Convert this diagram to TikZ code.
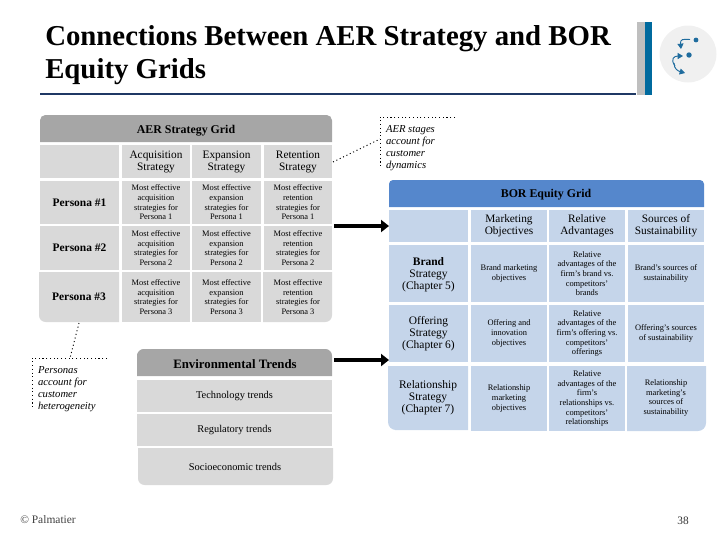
\documentclass[tikz,border=0pt]{standalone}
\usepackage{fontspec}
\setmainfont{Liberation Serif}
\usetikzlibrary{arrows.meta}
\definecolor{aerhead}{HTML}{A6A6A6}
\definecolor{aercell}{HTML}{D9D9D9}
\definecolor{borhead}{HTML}{5587CC}
\definecolor{borcell}{HTML}{C5D5EA}
\definecolor{navy}{HTML}{1F3864}
\definecolor{teal}{HTML}{006A9E}
\definecolor{barg}{HTML}{BFBFBF}
\definecolor{iconbg}{HTML}{F0F0F0}
\definecolor{iconfg}{HTML}{1F6C9E}
\tikzset{
  x=0.75pt,y=-0.75pt,
  boxtext/.style={inner sep=0pt,outer sep=0pt,align=center,anchor=center},
  headtext/.style={boxtext,font=\bfseries\fontsize{8.9}{11}\selectfont},
  coltext/.style={boxtext,font=\fontsize{8.5}{9}\selectfont},
  rowtext/.style={boxtext,font=\bfseries\fontsize{8.6}{9.1}\selectfont},
  rowplain/.style={boxtext,font=\fontsize{8.6}{9.1}\selectfont},
  bodytext/.style={boxtext,font=\fontsize{6.3}{7.25}\selectfont},
  trendtext/.style={boxtext,font=\fontsize{7.8}{9}\selectfont},
  notetext/.style={inner sep=0pt,outer sep=0pt,align=left,anchor=north west,font=\itshape\fontsize{8}{9}\selectfont},
  dotline/.style={draw=black,line width=0.7pt,dash pattern=on 0.8pt off 2pt},
  bigarrow/.style={draw=black,line width=3pt,-{Triangle[length=6pt,width=9pt]}},
  iconarrow/.style={draw=iconfg,line width=0.7pt,-{Triangle[length=4pt,width=4.5pt]}}
}
% #1 name, #2 x1, #3 y1, #4 x2, #5 y2, #6 fill colour, #7 text style, #8 text
\newcommand{\gridcell}[8]{%
  \pgfmathsetmacro{\cw}{(#4-#2)*0.75}%
  \pgfmathsetmacro{\ch}{(#5-#3)*0.75}%
  \node[#7,fill=#6,minimum width=\cw pt,minimum height=\ch pt] (#1) at ({(#2+#4)/2},{(#3+#5)/2}) {#8};}
\begin{document}
\begin{tikzpicture}
\useasboundingbox (0,0) rectangle (720,540);
% Title
\node[anchor=west,inner sep=0pt,align=left,font=\bfseries\fontsize{21.6}{24.75}\selectfont] (title) at (45,55) {Connections Between AER Strategy and BOR\\Equity Grids};
\fill[navy] (40,93) rectangle (636,95);
\fill[barg] (637,22) rectangle (645,95);
\fill[teal] (645,22) rectangle (652,95);
% Icon
\fill[iconbg] (688,54) circle [radius=28.5];
\fill[iconfg] (696,40) circle [radius=2.4];
\fill[iconfg] (689,55) circle [radius=2.7];
\draw[iconarrow] (690,39.5) .. controls (683,39) and (680,39) .. (681,49);
\draw[iconarrow] (675,66) .. controls (670,59) and (674,56) .. (683,56);
\draw[iconarrow] (674,63) .. controls (674,69) and (678,71) .. (685,73);
% AER grid
\fill[aerhead] (40,142) -- (40,120) [rounded corners=4pt] -- (40,115) -- (332,115) [sharp corners] -- (332,142) -- cycle;
\node[headtext] (aerhead) at (186,131) {AER Strategy Grid};
\gridcell{a00}{40}{145}{119}{178}{aercell}{coltext}{}
\gridcell{a01}{122}{145}{190}{178}{aercell}{coltext}{Acquisition\\Strategy}
\gridcell{a02}{192}{145}{261}{178}{aercell}{coltext}{Expansion\\Strategy}
\gridcell{a03}{264}{145}{332}{178}{aercell}{coltext}{Retention\\Strategy}
\gridcell{a10}{40}{181}{119}{224}{aercell}{rowtext}{Persona \#1}
\gridcell{a11}{122}{181}{190}{224}{aercell}{bodytext}{Most effective\\acquisition\\strategies for\\Persona 1}
\gridcell{a12}{192}{181}{261}{224}{aercell}{bodytext}{Most effective\\expansion\\strategies for\\Persona 1}
\gridcell{a13}{264}{181}{332}{224}{aercell}{bodytext}{Most effective\\retention\\strategies for\\Persona 1}
\gridcell{a20}{40}{226}{119}{270}{aercell}{rowtext}{Persona \#2}
\gridcell{a21}{122}{226}{190}{270}{aercell}{bodytext}{Most effective\\acquisition\\strategies for\\Persona 2}
\gridcell{a22}{192}{226}{261}{270}{aercell}{bodytext}{Most effective\\expansion\\strategies for\\Persona 2}
\gridcell{a23}{264}{226}{332}{270}{aercell}{bodytext}{Most effective\\retention\\strategies for\\Persona 2}
\fill[aercell] (39,272) -- (119,272) -- (119,322) -- (46,322) [rounded corners=5pt] -- (39,322) [sharp corners] -- (39,312) -- cycle;
\node[rowtext] (a30) at (79,297) {Persona \#3};
\gridcell{a31}{122}{272}{190}{322}{aercell}{bodytext}{Most effective\\acquisition\\strategies for\\Persona 3}
\gridcell{a32}{192}{272}{261}{322}{aercell}{bodytext}{Most effective\\expansion\\strategies for\\Persona 3}
\fill[aercell] (263,272) -- (332,272) -- (332,312) [rounded corners=5pt] -- (332,322) [sharp corners] -- (263,322) -- cycle;
\node[bodytext] (a33) at (298,297) {Most effective\\retention\\strategies for\\Persona 3};
% BOR grid
\fill[borhead] (389,207) -- (389,185) [rounded corners=3pt] -- (389,180) -- (704,180) [sharp corners] -- (704,207) -- cycle;
\node[headtext] (borhead) at (546,195) {BOR Equity Grid};
\gridcell{b00}{389}{210}{468}{242}{borcell}{coltext}{}
\gridcell{b01}{471}{210}{547}{242}{borcell}{coltext}{Marketing\\Objectives}
\gridcell{b02}{549}{210}{625}{242}{borcell}{coltext}{Relative\\Advantages}
\gridcell{b03}{628}{210}{704}{242}{borcell}{coltext}{Sources of\\Sustainability}
\gridcell{b10}{389}{245}{468}{305}{borcell}{rowtext}{Brand\\\mdseries Strategy\\\mdseries (Chapter 5)}
\fill[white] (389,302) rectangle (468,305);
\gridcell{b11}{471}{245}{547}{302}{borcell}{bodytext}{Brand marketing\\objectives}
\gridcell{b12}{549}{245}{625}{302}{borcell}{bodytext}{Relative\\advantages of the\\firm's brand vs.\\competitors'\\brands}
\gridcell{b13}{628}{245}{704}{302}{borcell}{bodytext}{Brand's sources of\\sustainability}
\gridcell{b20}{389}{305}{468}{362}{borcell}{rowplain}{Offering\\Strategy\\(Chapter 6)}
\gridcell{b21}{471}{305}{547}{362}{borcell}{bodytext}{Offering and\\innovation\\objectives}
\gridcell{b22}{549}{305}{625}{362}{borcell}{bodytext}{Relative\\advantages of the\\firm's offering vs.\\competitors'\\offerings}
\gridcell{b23}{628}{305}{704}{362}{borcell}{bodytext}{Offering's sources\\of sustainability}
\fill[borcell] (388,366) -- (468,366) -- (468,430) -- (395,430) [rounded corners=6pt] -- (388,430) [sharp corners] -- (388,420) -- cycle;
\node[rowplain] (b30) at (428,398) {Relationship\\Strategy\\(Chapter 7)};
\gridcell{b31}{471}{366}{547}{431}{borcell}{bodytext}{Relationship\\marketing\\objectives}
\gridcell{b32}{549}{366}{625}{431}{borcell}{bodytext}{Relative\\advantages of the\\firm's\\relationships vs.\\competitors'\\relationships}
\fill[borcell] (627,366) -- (706,366) -- (706,420) [rounded corners=6pt] -- (706,431) [sharp corners] -- (627,431) -- cycle;
\node[bodytext] (b33) at (666,398) {Relationship\\marketing's\\sources of\\sustainability};
% Environmental trends
\fill[aerhead] (137,376) -- (137,354) [rounded corners=5pt] -- (137,349) -- (332,349) [sharp corners] -- (332,376) -- cycle;
\node[headtext,font=\bfseries\fontsize{9.6}{11}\selectfont] (envhead) at (235,364) {Environmental Trends};
\gridcell{e1}{137}{380}{332}{412}{aercell}{trendtext}{Technology trends}
\gridcell{e2}{137}{414}{332}{446}{aercell}{trendtext}{Regulatory trends}
\fill[aercell] (138,448) -- (333,448) -- (333,475) [rounded corners=5pt] -- (333,485) -- (138,485) [sharp corners] -- (138,475) -- cycle;
\node[trendtext] (e3) at (235,467) {Socioeconomic trends};
% Notes
\node[notetext] (noteA) at (386,125) {AER stages\\account for\\customer\\dynamics};
\node[notetext] (noteP) at (38,367) {Personas\\account for\\customer\\heterogeneity};
\coordinate (nA1) at (380,117);
\coordinate (nA2) at (455,117);
\coordinate (nA3) at (380,166);
\coordinate (nA4) at (380,139);
\coordinate (nP1) at (32,358);
\coordinate (nP2) at (107,358);
\coordinate (nP3) at (32,408);
\coordinate (nP4) at (70,358);
\coordinate (aS) at (333,162);
\coordinate (pS) at (79,323);
\draw[dotline] (nA2) -- (nA1) -- (nA3);
\draw[dotline] (aS) -- (nA4);
\draw[dotline] (nP2) -- (nP1) -- (nP3);
\draw[dotline] (pS) -- (nP4);
% Arrows
\coordinate (arr1) at (334,226);
\coordinate (arr2) at (334,360);
\draw[bigarrow] (arr1) -- (arr1 -| b00.west);
\draw[bigarrow] (arr2) -- (arr2 -| b00.west);
% Footer
\node[anchor=west,inner sep=0pt,font=\fontsize{8.6}{9}\selectfont,text=black!75] (copy) at (20,520) {© Palmatier};
\node[inner sep=0pt,font=\fontsize{8.5}{10}\selectfont,text=black!80] (pageno) at (683,521) {38};
\end{tikzpicture}
\end{document}
